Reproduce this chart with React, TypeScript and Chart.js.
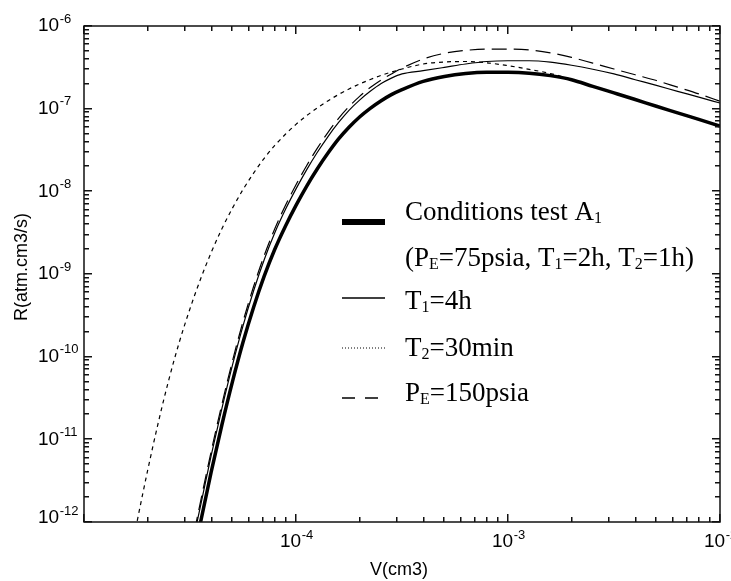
import React, { useEffect, useRef } from "react";
import { Chart, registerables } from "chart.js";
Chart.register(...registerables);

const W = 731;
const H = 581;

// Axis ranges and labels
const xMin = 1e-5;
const xMax = 1e-2;
const yMin = 1e-12;
const yMax = 1e-6;
const xLabelExps = [-4, -3, -2];
const yLabelExps = [-6, -7, -8, -9, -10, -11, -12];
const xTitle = "V(cm3)";
const yTitle = "R(atm.cm3/s)";

// tick positions (decades are major ticks)
const xMajorTicks = [1e-5, 1e-4, 1e-3, 1e-2];
const xMinorTicks = [
  2e-5, 3e-5, 4e-5, 5e-5, 6e-5, 7e-5, 8e-5, 9e-5,
  2e-4, 3e-4, 4e-4, 5e-4, 6e-4, 7e-4, 8e-4, 9e-4,
  2e-3, 3e-3, 4e-3, 5e-3, 6e-3, 7e-3, 8e-3, 9e-3,
];
const yMajorTicks = [1e-12, 1e-11, 1e-10, 1e-9, 1e-8, 1e-7, 1e-6];
const yMinorMultipliers = [2, 3, 4, 5, 6, 7, 8, 9];

// V (cm3) sample positions read along the x axis
const vGrid = [
  1.585e-5, 1.778e-5, 1.995e-5, 2.239e-5, 2.512e-5, 2.818e-5, 3.162e-5, 3.548e-5, 3.981e-5, 4.467e-5,
  5.012e-5, 5.623e-5, 6.31e-5, 7.079e-5, 7.943e-5, 8.913e-5, 1e-4, 1.122e-4, 1.259e-4, 1.413e-4,
  1.585e-4, 1.778e-4, 1.995e-4, 2.239e-4, 2.512e-4, 2.818e-4, 3.162e-4, 3.981e-4, 5.012e-4, 6.31e-4,
  7.943e-4, 1e-3, 1.259e-3, 1.585e-3, 1.995e-3, 2.512e-3, 3.162e-3, 3.981e-3, 5.012e-3, 6.31e-3,
  7.943e-3, 1e-2,
];

// Conditions test A1 (thick solid)
const rA1 = [
  null, null, null, null, null, null, 2.34e-13, 1e-12, 4.03e-12, 1.48e-11,
  4.95e-11, 1.49e-10, 3.96e-10, 9.4e-10, 1.99e-9, 3.79e-9, 6.76e-9, 1.15e-8, 1.86e-8, 2.88e-8,
  4.27e-8, 5.96e-8, 7.94e-8, 1.01e-7, 1.24e-7, 1.48e-7, 1.7e-7, 2.14e-7, 2.45e-7, 2.66e-7,
  2.75e-7, 2.75e-7, 2.69e-7, 2.51e-7, 2.24e-7, 1.86e-7, 1.55e-7, 1.29e-7, 1.07e-7, 8.91e-8,
  7.41e-8, 6.17e-8,
];

// T1 = 4h (thin solid)
const rT1 = [
  null, null, null, null, null, null, 3.98e-13, 1.58e-12, 6.38e-12, 2.34e-11,
  7.85e-11, 2.36e-10, 6.28e-10, 1.49e-9, 3.15e-9, 6.01e-9, 1.07e-8, 1.82e-8, 2.95e-8, 4.57e-8,
  6.76e-8, 9.55e-8, 1.27e-7, 1.62e-7, 2.0e-7, 2.34e-7, 2.63e-7, 2.88e-7, 3.16e-7, 3.47e-7,
  3.72e-7, 3.8e-7, 3.8e-7, 3.65e-7, 3.35e-7, 3.0e-7, 2.63e-7, 2.24e-7, 1.91e-7, 1.62e-7,
  1.38e-7, 1.17e-7,
];

// T2 = 30min (short dashes)
const rT2 = [
  2.24e-13, 1e-12, 4.17e-12, 1.58e-11, 5.25e-11, 1.51e-10, 3.8e-10, 8.71e-10, 1.82e-9, 3.51e-9,
  6.24e-9, 1.05e-8, 1.66e-8, 2.51e-8, 3.59e-8, 4.9e-8, 6.46e-8, 8.22e-8, 1.02e-7, 1.24e-7,
  1.48e-7, 1.73e-7, 1.99e-7, 2.25e-7, 2.52e-7, 2.77e-7, 3.02e-7, 3.47e-7, 3.67e-7, 3.72e-7,
  3.59e-7, 3.31e-7, 2.99e-7, 2.66e-7, 2.26e-7, 1.86e-7, 1.55e-7, 1.29e-7, 1.07e-7, 8.91e-8,
  7.41e-8, 6.17e-8,
];

// PE = 150psia (long dashes)
const rPE = [
  null, null, null, null, null, null, 4.17e-13, 1.78e-12, 7.16e-12, 2.63e-11,
  8.81e-11, 2.65e-10, 7.05e-10, 1.67e-9, 3.53e-9, 6.75e-9, 1.2e-8, 2.04e-8, 3.31e-8, 5.13e-8,
  7.59e-8, 1.06e-7, 1.41e-7, 1.8e-7, 2.21e-7, 2.63e-7, 3.09e-7, 3.98e-7, 4.68e-7, 5.07e-7,
  5.25e-7, 5.25e-7, 5.13e-7, 4.73e-7, 4.17e-7, 3.55e-7, 3.02e-7, 2.57e-7, 2.19e-7, 1.82e-7,
  1.51e-7, 1.23e-7,
];

// Legend text runs: [text, isSubscript]
const legendRows: { runs: [string, boolean][]; sample: string | null }[] = [
  { runs: [["Conditions test A", false], ["1", true]], sample: "thick" },
  { runs: [["(P", false], ["E", true], ["=75psia, T", false], ["1", true], ["=2h, T", false], ["2", true], ["=1h)", false]], sample: null },
  { runs: [["T", false], ["1", true], ["=4h", false]], sample: "thin" },
  { runs: [["T", false], ["2", true], ["=30min", false]], sample: "dot" },
  { runs: [["P", false], ["E", true], ["=150psia", false]], sample: "dash" },
];

const SANS = '"Liberation Sans", Arial, sans-serif';
const SERIF = '"Liberation Serif", "Times New Roman", serif';

function pts(v: number[], r: (number | null)[]) {
  const out: { x: number; y: number }[] = [];
  v.forEach((x, i) => {
    const y = r[i];
    if (y !== null && y !== undefined) out.push({ x, y });
  });
  return out;
}

function drawPow(ctx: CanvasRenderingContext2D, xLeft: number, yMid: number, exp: number) {
  ctx.textAlign = "left";
  ctx.font = `19px ${SANS}`;
  ctx.textBaseline = "middle";
  ctx.fillText("10", xLeft, yMid);
  const w = ctx.measureText("10").width;
  ctx.font = `13px ${SANS}`;
  ctx.textBaseline = "alphabetic";
  ctx.fillText(String(exp), xLeft + w + 0.5, yMid - 3.5);
}

function xPix(chart: any, v: number) {
  const p = chart.scales.x.getPixelForValue(v);
  if (Number.isFinite(p)) return p;
  const a = chart.chartArea;
  return a.left + ((Math.log10(v) - Math.log10(xMin)) / (Math.log10(xMax) - Math.log10(xMin))) * (a.right - a.left);
}
function yPix(chart: any, v: number) {
  const p = chart.scales.y.getPixelForValue(v);
  if (Number.isFinite(p)) return p;
  const a = chart.chartArea;
  return a.bottom - ((Math.log10(v) - Math.log10(yMin)) / (Math.log10(yMax) - Math.log10(yMin))) * (a.bottom - a.top);
}

const bgPlugin = {
  id: "whiteBg",
  beforeDraw(chart: any) {
    const ctx = chart.ctx;
    ctx.save();
    ctx.fillStyle = "#fff";
    ctx.fillRect(0, 0, chart.width, chart.height);
    ctx.restore();
  },
};

const ticksPlugin = {
  id: "insideTicks",
  afterDatasetsDraw(chart: any) {
    const ctx: CanvasRenderingContext2D = chart.ctx;
    const a = chart.chartArea;
    ctx.save();
    ctx.fillStyle = "#111";
    const xt = (v: number, len: number) => {
      const px = Math.round(xPix(chart, v));
      ctx.fillRect(px - 1, a.bottom - len, 1.5, len);
      ctx.fillRect(px - 1, a.top, 1.5, len);
    };
    const yt = (v: number, len: number) => {
      const py = Math.round(yPix(chart, v));
      ctx.fillRect(a.left, py - 1, len, 1.5);
      ctx.fillRect(a.right - len, py - 1, len, 1.5);
    };
    xMajorTicks.forEach((v) => xt(v, 8));
    xMinorTicks.forEach((v) => xt(v, 5));
    yMajorTicks.forEach((v) => {
      yt(v, 8);
      if (v < yMax) yMinorMultipliers.forEach((m) => yt(v * m, 5));
    });
    ctx.restore();
  },
};

const framePlugin = {
  id: "frameAxes",
  afterDraw(chart: any) {
    const ctx: CanvasRenderingContext2D = chart.ctx;
    const a = chart.chartArea;
    ctx.save();
    ctx.setLineDash([]);
    ctx.strokeStyle = "#000";
    ctx.fillStyle = "#000";

    const seg = (x1: number, y1: number, x2: number, y2: number) => {
      ctx.beginPath();
      ctx.moveTo(x1, y1);
      ctx.lineTo(x2, y2);
      ctx.stroke();
    };

    // frame
    ctx.lineWidth = 1.5;
    ctx.strokeStyle = "#111";
    ctx.strokeRect(a.left, a.top, a.right - a.left, a.bottom - a.top);

    // tick labels
    ctx.fillStyle = "#000";
    for (const e of yLabelExps) {
      const py = yPix(chart, Math.pow(10, e));
      drawPow(ctx, a.left - 46, Math.min(py, a.bottom - 4), e);
    }
    for (const e of xLabelExps) {
      const px = xPix(chart, Math.pow(10, e));
      drawPow(ctx, px - 16, a.bottom + 20, e);
    }

    // axis titles
    ctx.font = `18px ${SANS}`;
    ctx.textAlign = "center";
    ctx.textBaseline = "middle";
    ctx.fillText(xTitle, (a.left + a.right) / 2 - 3, a.bottom + 48);
    ctx.save();
    ctx.translate(22, (a.top + a.bottom) / 2 - 7);
    ctx.rotate(-Math.PI / 2);
    ctx.fillText(yTitle, 0, 0);
    ctx.restore();

    // legend
    const sx0 = a.left + 258;
    const sx1 = a.left + 301;
    const tx = a.left + 321;
    const baselines = [194, 240, 283, 330, 375];
    const sampleY = [196, 0, 272, 322, 372];
    ctx.strokeStyle = "#000";
    legendRows.forEach((row, i) => {
      const sy = a.top + sampleY[i];
      if (row.sample === "thick") {
        ctx.lineWidth = 6;
        ctx.setLineDash([]);
        seg(sx0, sy, sx1, sy);
      } else if (row.sample === "thin") {
        ctx.lineWidth = 1.3;
        ctx.setLineDash([]);
        seg(sx0, sy, sx1, sy);
      } else if (row.sample === "dot") {
        ctx.lineWidth = 1;
        ctx.setLineDash([1, 2]);
        seg(sx0, sy, sx1, sy);
      } else if (row.sample === "dash") {
        ctx.lineWidth = 1.3;
        ctx.setLineDash([13, 10]);
        seg(sx0, sy, sx0 + 36, sy);
      }
      ctx.setLineDash([]);
      let x = tx;
      const base = a.top + baselines[i];
      ctx.textAlign = "left";
      ctx.textBaseline = "alphabetic";
      for (const [t, sub] of row.runs) {
        ctx.font = sub ? `16px ${SERIF}` : `27px ${SERIF}`;
        ctx.fillText(t, x, base + (sub ? 3 : 0));
        x += ctx.measureText(t).width;
      }
    });
    ctx.restore();
  },
};

export default function App() {
  const ref = useRef<HTMLCanvasElement | null>(null);
  useEffect(() => {
    if (!ref.current) return;
    const common = { pointRadius: 0, borderColor: "#000", showLine: true, cubicInterpolationMode: "monotone" as const, fill: false };
    const chart = new Chart(ref.current, {
      type: "scatter",
      data: {
        datasets: [
          { ...common, label: "T2=30min", data: pts(vGrid, rT2), borderWidth: 1.2, borderDash: [4, 4] },
          { ...common, label: "PE=150psia", data: pts(vGrid, rPE), borderWidth: 1.2, borderDash: [15, 7] },
          { ...common, label: "T1=4h", data: pts(vGrid, rT1), borderWidth: 1.2 },
          { ...common, label: "Conditions test A1", data: pts(vGrid, rA1), borderWidth: 3.5 },
        ],
      },
      options: {
        responsive: false,
        animation: false,
        devicePixelRatio: 1,
        layout: { padding: { left: 84, right: 11, top: 26, bottom: 59 } },
        plugins: { legend: { display: false }, tooltip: { enabled: false }, title: { display: false } },
        scales: {
          x: { type: "logarithmic", min: xMin, max: xMax, display: false },
          y: { type: "logarithmic", min: yMin, max: yMax, display: false },
        },
      },
      plugins: [bgPlugin, ticksPlugin, framePlugin],
    } as any);
    return () => chart.destroy();
  }, []);
  return (
    <div style={{ position: "fixed", left: 0, top: 0, width: W, height: H, background: "#fff" }}>
      <canvas ref={ref} width={W} height={H} style={{ display: "block", width: W, height: H }} />
    </div>
  );
}
